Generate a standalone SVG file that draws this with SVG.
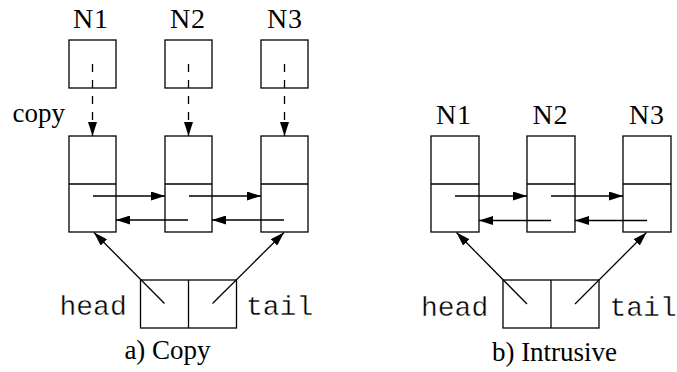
<svg xmlns="http://www.w3.org/2000/svg" width="677" height="372" viewBox="0 0 677 372">
  <style>
    .box { fill: #fff; stroke: #000; stroke-width: 1.3; }
    .ln { fill: none; stroke: #000; stroke-width: 1.3; }
    .arr { fill: none; stroke: #000; stroke-width: 1.3; marker-end: url(#head); }
    .dash { stroke-dasharray: 8 8; }
    .serif { font-family: "Liberation Serif", "Times New Roman", serif; font-size: 27px; fill: #000; }
    .lbl { font-size: 28px; letter-spacing: 1px; }
    .mono { font-family: "Liberation Mono", "Courier New", monospace; font-size: 28px; fill: #000; stroke: #fff; stroke-width: 0.4; }
    .mid { text-anchor: middle; }
  </style>
  <defs>
    <marker id="head" markerUnits="userSpaceOnUse" markerWidth="14" markerHeight="9" refX="14" refY="4.5" orient="auto">
      <path d="M0,0 L14,4.5 L0,9 z" fill="#000"/>
    </marker>
  </defs>

  <!-- a) Copy: separate objects copied into list nodes -->
  <g id="a-obj-n1">
    <text class="serif lbl mid" x="91" y="28">N1</text>
    <rect class="box" x="69" y="40" width="47" height="48"/>
  </g>
  <g id="a-obj-n2">
    <text class="serif lbl mid" x="188" y="28">N2</text>
    <rect class="box" x="165" y="40" width="47" height="48"/>
  </g>
  <g id="a-obj-n3">
    <text class="serif lbl mid" x="285" y="28">N3</text>
    <rect class="box" x="261" y="40" width="47" height="48"/>
  </g>
  <g id="a-copy-label">
    <text class="serif" x="12.5" y="122">copy</text>
  </g>
  <g id="a-node1">
    <rect class="box" x="69" y="136" width="47" height="96"/>
    <line class="ln" x1="69" y1="184" x2="116" y2="184"/>
  </g>
  <g id="a-node2">
    <rect class="box" x="165" y="136" width="47" height="96"/>
    <line class="ln" x1="165" y1="184" x2="212" y2="184"/>
  </g>
  <g id="a-node3">
    <rect class="box" x="261" y="136" width="47" height="96"/>
    <line class="ln" x1="261" y1="184" x2="308" y2="184"/>
  </g>
  <g id="a-list">
    <rect class="box" x="140.5" y="280" width="96" height="48"/>
    <line class="ln" x1="188.5" y1="280" x2="188.5" y2="328"/>
    <text class="mono" x="59.5" y="315">head</text>
    <text class="mono" x="246" y="315">tail</text>
  </g>
  <g id="a-caption">
    <text class="serif mid" x="167.5" y="359">a) Copy</text>
  </g>

  <!-- b) Intrusive: links embedded in the objects -->
  <g id="b-node1">
    <text class="serif lbl mid" x="454" y="124">N1</text>
    <rect class="box" x="431" y="136" width="48" height="96"/>
    <line class="ln" x1="431" y1="184" x2="479" y2="184"/>
  </g>
  <g id="b-node2">
    <text class="serif lbl mid" x="550.5" y="124">N2</text>
    <rect class="box" x="527" y="136" width="48" height="96"/>
    <line class="ln" x1="527" y1="184" x2="575" y2="184"/>
  </g>
  <g id="b-node3">
    <text class="serif lbl mid" x="647" y="124">N3</text>
    <rect class="box" x="623" y="136" width="48" height="96"/>
    <line class="ln" x1="623" y1="184" x2="671" y2="184"/>
  </g>
  <g id="b-list">
    <rect class="box" x="503" y="280" width="96" height="48"/>
    <line class="ln" x1="551" y1="280" x2="551" y2="328"/>
    <text class="mono" x="421" y="316">head</text>
    <text class="mono" x="609.5" y="316">tail</text>
  </g>
  <g id="b-caption">
    <text class="serif mid" x="554.5" y="361">b) Intrusive</text>
  </g>

  <g id="connectors">
    <!-- copy arrows -->
    <line class="arr dash" x1="92.5" y1="64" x2="92.5" y2="136"/>
    <line class="arr dash" x1="188.5" y1="64" x2="188.5" y2="136"/>
    <line class="arr dash" x1="284.5" y1="64" x2="284.5" y2="136"/>
    <!-- a) next / prev -->
    <line class="arr" x1="93" y1="196" x2="165" y2="196"/>
    <line class="arr" x1="189" y1="196" x2="261" y2="196"/>
    <line class="arr" x1="188" y1="220" x2="116" y2="220"/>
    <line class="arr" x1="284" y1="220" x2="212" y2="220"/>
    <!-- a) head / tail -->
    <line class="arr" x1="164.5" y1="303.5" x2="94" y2="232.5"/>
    <line class="arr" x1="212.5" y1="303.5" x2="284" y2="232.5"/>
    <!-- b) next / prev -->
    <line class="arr" x1="455" y1="196" x2="527" y2="196"/>
    <line class="arr" x1="551" y1="196" x2="623" y2="196"/>
    <line class="arr" x1="551" y1="220.5" x2="479" y2="220.5"/>
    <line class="arr" x1="647" y1="220.5" x2="575" y2="220.5"/>
    <!-- b) head / tail -->
    <line class="arr" x1="527" y1="304" x2="456.5" y2="232.5"/>
    <line class="arr" x1="575" y1="304" x2="646.5" y2="232.5"/>
  </g>
</svg>
